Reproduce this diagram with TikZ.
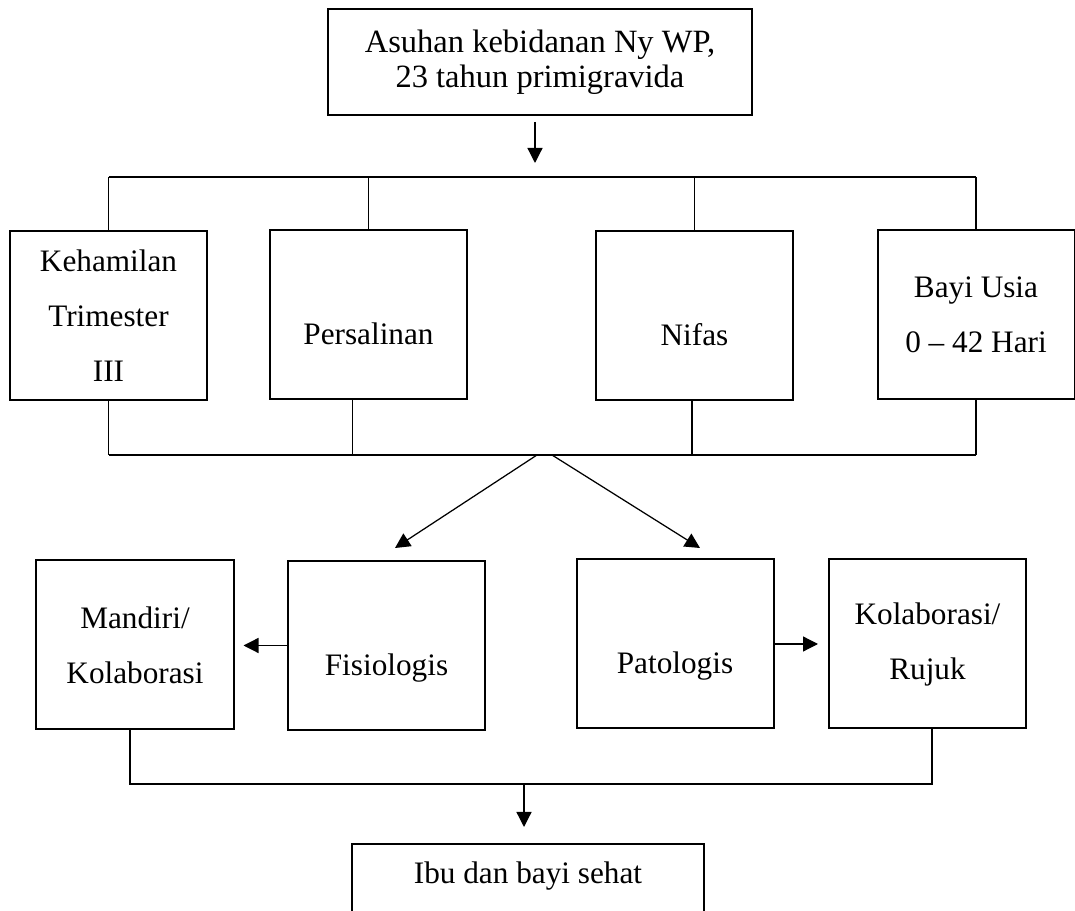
\documentclass[tikz,border=0pt]{standalone}
\usepackage{fontspec}
\setmainfont{Liberation Serif}
\usetikzlibrary{arrows.meta, positioning, calc}

\begin{document}
\begin{tikzpicture}[x=0.4pt, y=-0.4pt, >={Triangle[length=6pt, width=6pt]},
    kotak/.style={draw, line width=0.8pt, minimum width=78.8pt, minimum height=67.6pt,
        inner sep=0pt, align=center, font=\fontsize{12.5}{22}\selectfont},
    rendah/.style={text height=24pt, text depth=0pt},
    garis/.style={line width=0.5pt}]
    \useasboundingbox (0,0) rectangle (1075,911);

    % Kotak utama
    \node[kotak, font=\fontsize{13}{14}\selectfont, minimum width=169.6pt,
        minimum height=42.4pt] (asuhan) at (540,62) {Asuhan kebidanan Ny WP,\\23 tahun primigravida};

    % Tahapan asuhan
    \node[kotak] (hamil) at (108.5,315.5) {Kehamilan\\Trimester\\III};
    \node[kotak, rendah] (salin) at (368.5,315) {Persalinan};
    \node[kotak, rendah] (nifas) at (694.5,316) {Nifas};
    \node[kotak] (bayi) at (976,315) {Bayi Usia\\0 – 42 Hari};

    % Fisiologis / patologis
    \node[kotak] (mandiri) at (135,645) {Mandiri/\\Kolaborasi};
    \node[kotak, rendah] (fisio) at (386.5,645.5) {Fisiologis};
    \node[kotak, rendah] (pato) at (675,644) {Patologis};
    \node[kotak] (rujuk) at (927.5,644) {Kolaborasi/\\Rujuk};

    % Hasil akhir
    \node[kotak, anchor=north, minimum width=140.8pt, minimum height=32pt,
        text height=8pt, text depth=8pt] (sehat) at (528,843) {Ibu dan bayi sehat};

    \coordinate (busA) at (535,177);
    \coordinate (busB) at (544,455);
    \coordinate (busC) at (524,784);

    % Garis penghubung atas
    \draw[garis, ->, shorten <=2.4pt, shorten >=5.6pt]
        ([xshift=-2pt]asuhan.south) -- ([xshift=-2pt]asuhan.south |- busA);
    \draw[garis] (hamil.north |- busA) -- (bayi.north |- busA);
    \foreach \n in {hamil, salin, nifas, bayi}
        \draw[garis] (\n.north) -- (\n.north |- busA);

    % Garis penghubung tengah
    \draw[garis] (hamil.south |- busB) -- (bayi.south |- busB);
    \foreach \n/\dx in {hamil/0, salin/-6.4, nifas/-1, bayi/0}
        \draw[garis] ([xshift=\dx pt]\n.south) -- ([xshift=\dx pt]\n.south |- busB);
    \draw[garis, ->] ([xshift=-2.8pt]busB) -- ([shift={(8.5,-12)}]fisio.north);
    \draw[garis, ->] ([xshift=3.2pt]busB) -- ([shift={(25,-10.5)}]pato.north);
    \draw[garis, ->, shorten >=3.6pt] (fisio.west) -- (fisio.west -| mandiri.east);
    \draw[garis, ->, shorten >=4pt] (pato.east) -- (pato.east -| rujuk.west);

    % Garis penghubung bawah
    \draw[garis] ([xshift=-2pt]mandiri.south) -- ([xshift=-2pt]mandiri.south |- busC)
        -- ([xshift=1.8pt]rujuk.south |- busC) -- ([xshift=1.8pt]rujuk.south);
    \draw[garis, ->, shorten >=6.4pt] (busC) -- (busC |- sehat.north);
\end{tikzpicture}
\end{document}
